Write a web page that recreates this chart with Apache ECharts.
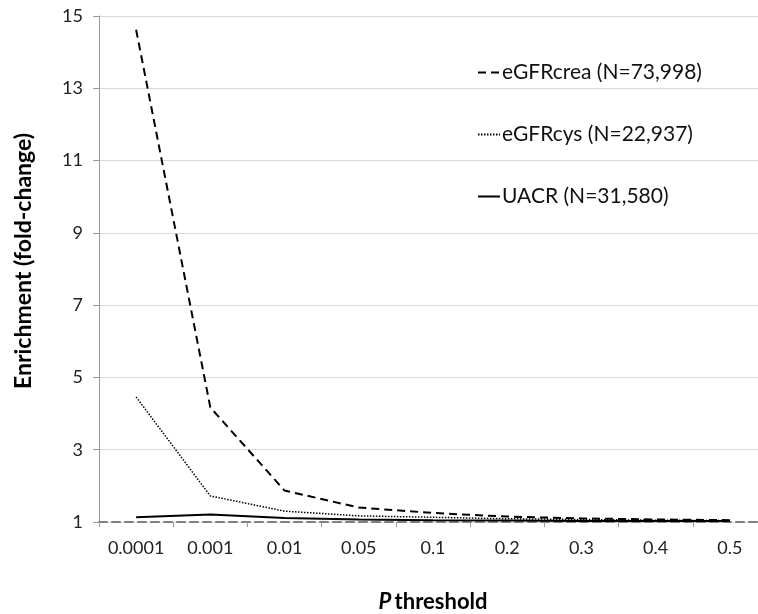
<!DOCTYPE html>
<html>
<head>
<meta charset="utf-8">
<script src="https://cdn.jsdelivr.net/npm/echarts@6/dist/echarts.min.js"></script>
<style>
html,body{margin:0;padding:0;background:#fff;}
#chart{width:758px;height:614px;}
</style>
</head>
<body>
<div id="chart"></div>
<script>
// P thresholds on the x axis
var thresholds = ['0.0001', '0.001', '0.01', '0.05', '0.1', '0.2', '0.3', '0.4', '0.5'];
var yTicks = [1, 15, 2]; // min, max, step
// fold-change values
var crea = [14.62, 4.17, 1.87, 1.4, 1.25, 1.15, 1.1, 1.07, 1.05];
var cys = [4.46, 1.72, 1.3, 1.17, 1.13, 1.09, 1.07, 1.05, 1.04];
var uacr = [1.13, 1.21, 1.11, 1.07, 1.05, 1.04, 1.03, 1.03, 1.03];
var names = ['eGFRcrea (N=73,998)', 'eGFRcys (N=22,937)', 'UACR (N=31,580)'];

var fontFam = 'Lato, "Open Sans", sans-serif';

var chart = echarts.init(document.getElementById('chart'));

function makeLine(name, data, type, width) {
    return {
        name: name,
        type: 'line',
        data: data,
        symbol: 'none',
        showSymbol: false,
        silent: true,
        lineStyle: {color: '#000', width: width, type: type},
        itemStyle: {color: '#000'}
    };
}

var option = {
    animation: false,
    backgroundColor: '#fff',
    grid: {left: 99, right: -9, top: 16, bottom: 92, outerBoundsMode: 'none', containLabel: false},
    legend: {
        orient: 'vertical',
        left: 472,
        top: 57,
        itemGap: 41,
        itemWidth: 22,
        itemHeight: 14,
        itemStyle: {opacity: 0},
        textStyle: {fontFamily: fontFam, fontSize: 21, color: '#111', lineHeight: 20, padding: [0, 0, 0, -3]},
        data: names
    },
    xAxis: {
        type: 'category',
        data: thresholds,
        boundaryGap: true,
        name: '{i|P} {b|threshold}',
        nameLocation: 'middle',
        nameGap: 69,
        nameTextStyle: {
            rich: {
                i: {fontFamily: fontFam, fontSize: 22, fontWeight: 'bold', fontStyle: 'italic', color: '#000'},
                b: {fontFamily: fontFam, fontSize: 22, fontWeight: 'bold', color: '#000'}
            }
        },
        axisLine: {onZero: false, lineStyle: {color: '#7f7f7f', width: 2, type: [8, 5]}},
        axisTick: {show: true, length: 5, lineStyle: {color: '#999'}},
        axisLabel: {fontFamily: fontFam, fontSize: 18, color: '#222', margin: 17, interval: 0},
        splitLine: {show: false}
    },
    yAxis: {
        type: 'value',
        min: yTicks[0],
        max: yTicks[1],
        interval: yTicks[2],
        name: 'Enrichment (fold-change)',
        nameLocation: 'middle',
        nameGap: 64,
        nameTextStyle: {fontFamily: fontFam, fontSize: 23, fontWeight: 'bold', color: '#000', padding: [0, 0, 0, 16]},
        axisLine: {show: true, lineStyle: {color: '#999', width: 1}},
        axisTick: {show: true, length: 6, lineStyle: {color: '#999'}},
        axisLabel: {fontFamily: fontFam, fontSize: 18, color: '#222', margin: 16},
        splitLine: {show: true, lineStyle: {color: '#d9d9d9', width: 1}}
    },
    series: [
        makeLine(names[0], crea, [8, 5], 2),
        makeLine(names[1], cys, [1.5, 1.5], 1.5),
        makeLine(names[2], uacr, 'solid', 2)
    ]
};

chart.setOption(option);
</script>
</body>
</html>
